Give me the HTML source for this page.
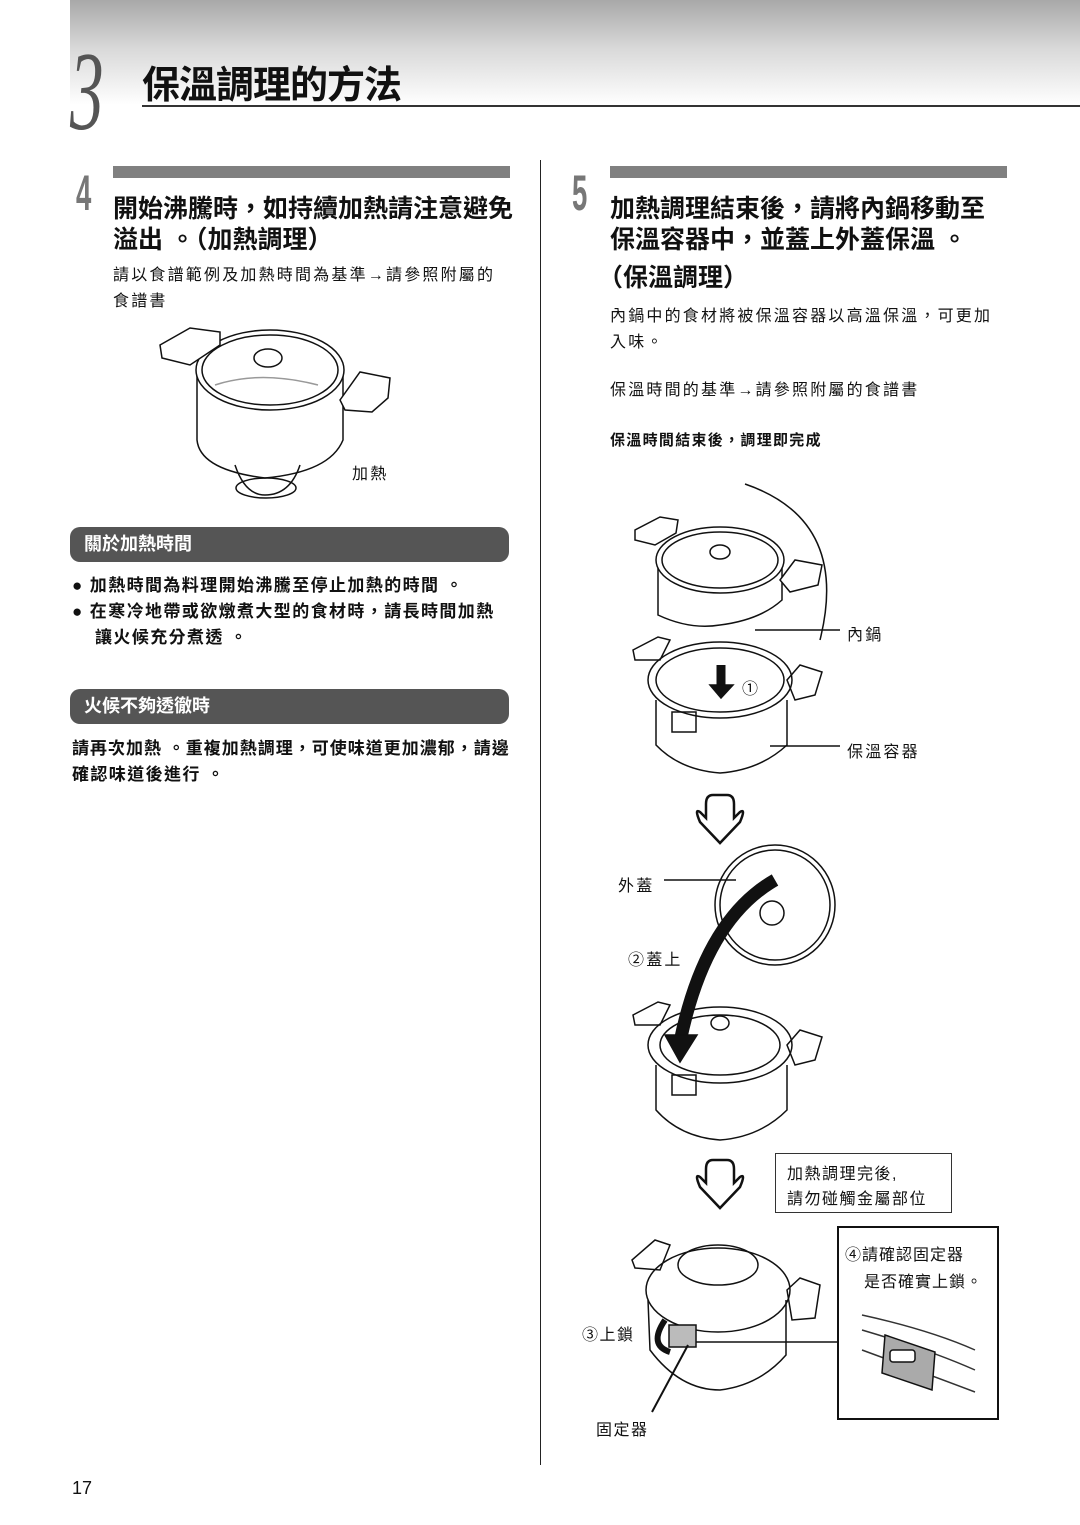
<!DOCTYPE html>
<html><head><meta charset="utf-8"><style>
body{margin:0;width:1080px;height:1525px;position:relative;background:#fff;font-family:"Liberation Sans","Noto Sans CJK TC",sans-serif;color:#111;overflow:hidden}
.t{position:absolute;white-space:nowrap}
.h{font-weight:bold;font-size:25px;letter-spacing:0px}
.s{font-size:16px;letter-spacing:2.2px}
.b{font-size:17px;font-weight:bold;letter-spacing:1.4px}
.box{position:absolute;background:#555;border-radius:10px;color:#fff;font-weight:bold;font-size:18px;padding-left:14px;box-sizing:border-box;line-height:35px}
</style></head><body>
<div style="position:absolute;left:70px;top:0;width:1010px;height:105px;background:linear-gradient(#a8a8a8,#d8d8d8 45%,#fff 100%)"></div>
<div class="t" style="left:70px;top:28px;font-size:112px;font-style:italic;color:#555;font-family:'Liberation Serif',serif;transform:scaleX(0.6);transform-origin:left">3</div>
<div class="t" style="left:142px;top:54px;font-size:38px;font-weight:bold;letter-spacing:-1px">保溫調理的方法</div>
<div style="position:absolute;left:142px;top:105px;width:938px;height:2px;background:#333"></div>
<div style="position:absolute;left:540px;top:160px;width:1px;height:1305px;background:#222"></div>

<div style="position:absolute;left:113px;top:166px;width:397px;height:12px;background:#808080"></div>
<div class="t" style="left:76px;top:164px;font-size:50px;font-weight:bold;color:#777;transform:scaleX(0.55);transform-origin:left">4</div>
<div class="t h" style="left:113px;top:189px">開始沸騰時，如持續加熱請注意避免</div>
<div class="t h" style="left:113px;top:220px">溢出 。（加熱調理）</div>
<div class="t s" style="left:113px;top:261px">請以食譜範例及加熱時間為基準→請參照附屬的</div>
<div class="t s" style="left:113px;top:287px">食譜書</div>
<div class="t s" style="left:352px;top:460px">加熱</div>
<div class="box" style="left:70px;top:527px;width:439px;height:35px">關於加熱時間</div>
<div class="t b" style="left:72px;top:571px">●&nbsp;加熱時間為料理開始沸騰至停止加熱的時間 。</div>
<div class="t b" style="left:72px;top:597px">●&nbsp;在寒冷地帶或欲燉煮大型的食材時，請長時間加熱</div>
<div class="t b" style="left:95px;top:623px">讓火候充分煮透 。</div>
<div class="box" style="left:70px;top:689px;width:439px;height:35px">火候不夠透徹時</div>
<div class="t b" style="left:72px;top:734px;letter-spacing:1px">請再次加熱 。重複加熱調理，可使味道更加濃郁，請邊</div>
<div class="t b" style="left:72px;top:760px">確認味道後進行 。</div>

<div style="position:absolute;left:610px;top:166px;width:397px;height:12px;background:#808080"></div>
<div class="t" style="left:572px;top:164px;font-size:50px;font-weight:bold;color:#777;transform:scaleX(0.55);transform-origin:left">5</div>
<div class="t h" style="left:610px;top:189px">加熱調理結束後，請將內鍋移動至</div>
<div class="t h" style="left:610px;top:220px">保溫容器中，並蓋上外蓋保溫 。</div>
<div class="t h" style="left:598px;top:258px">（保溫調理）</div>
<div class="t s" style="left:610px;top:302px">內鍋中的食材將被保溫容器以高溫保溫，可更加</div>
<div class="t s" style="left:610px;top:328px">入味。</div>
<div class="t s" style="left:610px;top:376px">保溫時間的基準→請參照附屬的食譜書</div>
<div class="t" style="left:610px;top:429px;font-size:15px;font-weight:bold;letter-spacing:1.3px">保溫時間結束後，調理即完成</div>
<div class="t s" style="left:847px;top:621px">內鍋</div>
<div class="t s" style="left:742px;top:675px">①</div>
<div class="t s" style="left:847px;top:738px">保溫容器</div>
<div class="t s" style="left:618px;top:872px">外蓋</div>
<div class="t s" style="left:628px;top:946px">②蓋上</div>
<div style="position:absolute;left:775px;top:1153px;width:175px;height:58px;border:1.5px solid #333"></div>
<div class="t s" style="left:787px;top:1160px;letter-spacing:1.5px">加熱調理完後,</div>
<div class="t s" style="left:787px;top:1185px;letter-spacing:1.5px">請勿碰觸金屬部位</div>
<div style="position:absolute;left:837px;top:1226px;width:158px;height:190px;border:2px solid #111"></div>
<div class="t s" style="left:845px;top:1241px;letter-spacing:1px">④請確認固定器</div>
<div class="t s" style="left:864px;top:1268px;letter-spacing:1px">是否確實上鎖。</div>
<div class="t s" style="left:582px;top:1321px;letter-spacing:1.5px">③上鎖</div>
<div class="t s" style="left:596px;top:1416px;letter-spacing:1.5px">固定器</div>
<div class="t" style="left:72px;top:1478px;font-size:18px">17</div>

<svg width="1080" height="1525" style="position:absolute;left:0;top:0" fill="none" stroke="#111" stroke-width="1.5">
<path d="M197 370 L197 440 Q200 470 265 478 Q330 472 343 440 L343 370"/>
<ellipse cx="270" cy="370" rx="74" ry="40" fill="#fff"/>
<ellipse cx="270" cy="370" rx="68" ry="35"/>
<path d="M160 345 L190 328 L220 332 L220 345 L190 365 L162 358 Z" fill="#fff"/>
<path d="M340 400 L360 372 L390 378 L388 398 L372 412 L345 410 Z" fill="#fff"/>
<ellipse cx="268" cy="358" rx="14" ry="9" fill="#fff"/>
<path d="M215 385 Q260 370 318 385" stroke="#999"/>
<path d="M235 465 Q245 495 265 495 Q290 495 300 465"/>
<ellipse cx="266" cy="488" rx="30" ry="10"/>
<path d="M745 484 Q850 520 820 640" />
<path d="M658 560 L658 615 Q690 630 720 625 Q760 620 782 600 L782 560"/>
<ellipse cx="720" cy="560" rx="64" ry="33" fill="#fff"/>
<ellipse cx="720" cy="560" rx="58" ry="28"/>
<path d="M635 530 L660 517 L678 520 L676 533 L655 545 L635 540 Z" fill="#fff"/>
<path d="M780 580 L795 560 L822 565 L818 585 L790 592 Z" fill="#fff"/>
<ellipse cx="720" cy="552" rx="10" ry="7" fill="#fff"/>
<path d="M755 630 L840 630"/>
<ellipse cx="720" cy="680" rx="72" ry="38"/>
<ellipse cx="720" cy="680" rx="64" ry="32"/>
<path d="M656 700 L656 745 Q680 770 720 773 Q760 770 787 745 L787 700"/>
<path d="M633 650 L658 637 L670 640 L660 660 L635 660 Z"/>
<path d="M787 680 L800 665 L822 672 L815 695 L795 700 Z"/>
<rect x="672" y="712" width="24" height="20"/>
<path d="M770 746 L840 746"/>
<path d="M721 665 L721 690" stroke-width="9"/><path d="M710 685 L721 698 L733 685 Z" fill="#111"/>
<path d="M713 795 Q706 795 706 804 L706 818 L700 812 Q694 808 700 822 L720 843 L740 822 Q746 808 740 812 L734 818 L734 804 Q734 795 727 795 Z" stroke-width="2.5"/>
<path d="M713 1160 Q706 1160 706 1169 L706 1183 L700 1177 Q694 1173 700 1187 L720 1208 L740 1187 Q746 1173 740 1177 L734 1183 L734 1169 Q734 1160 727 1160 Z" stroke-width="2.5"/>
<circle cx="775" cy="905" r="60" fill="#fff"/>
<circle cx="775" cy="905" r="55"/>
<circle cx="772" cy="913" r="12"/>
<path d="M664 880 L736 880"/>
<ellipse cx="720" cy="1045" rx="72" ry="38"/>
<ellipse cx="720" cy="1045" rx="60" ry="30"/>
<path d="M656 1065 L656 1110 Q680 1137 720 1140 Q760 1137 787 1110 L787 1065"/>
<path d="M633 1015 L658 1002 L670 1005 L660 1025 L635 1025 Z"/>
<path d="M787 1045 L800 1030 L822 1037 L815 1060 L795 1065 Z"/>
<ellipse cx="720" cy="1023" rx="9" ry="7"/>
<rect x="672" y="1075" width="24" height="20"/>
<path d="M775 880 Q705 920 680 1042" stroke="#111" stroke-width="13" />
<path d="M665 1035 L680 1062 L697 1035 Z" fill="#111"/>
<ellipse cx="718" cy="1290" rx="72" ry="42" fill="#fff"/>
<ellipse cx="718" cy="1265" rx="40" ry="20"/>
<path d="M648 1300 L650 1350 Q680 1390 720 1390 Q760 1385 786 1355 L786 1300"/>
<path d="M632 1260 L655 1240 L670 1245 L660 1270 L635 1268 Z"/>
<path d="M787 1290 L800 1278 L820 1285 L815 1318 L792 1320 Z"/>
<rect x="669" y="1325" width="27" height="22" fill="#bbb"/>
<path d="M696 1342 L837 1342"/>
<path d="M688 1345 L652 1412" stroke-width="2"/>
<path d="M665 1320 Q648 1345 670 1352" stroke-width="6"/>
<path d="M862 1315 Q930 1330 975 1350 M862 1330 Q930 1350 975 1370 M862 1350 Q930 1375 975 1392" stroke="#333"/>
<path d="M885 1335 L935 1352 L932 1390 L882 1373 Z" fill="#aaa"/>
<rect x="890" y="1350" width="25" height="12" rx="3" fill="#fff"/>
</svg>
</body></html>
